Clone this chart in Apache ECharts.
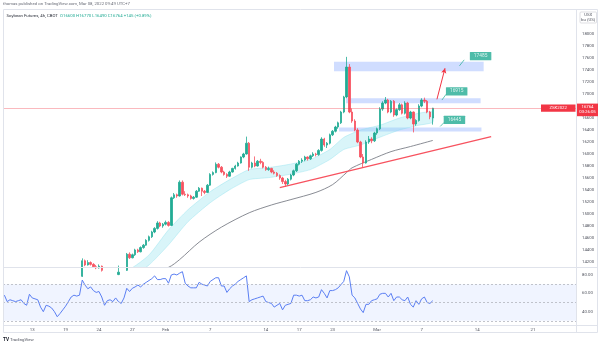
<!DOCTYPE html>
<html>
<head>
<meta charset="utf-8">
<script src="https://cdn.jsdelivr.net/npm/echarts@6/dist/echarts.min.js"></script>
<style>
  html, body { margin: 0; padding: 0; background: #ffffff; }
  #chart { width: 602px; height: 346px; }
</style>
</head>
<body>
<div id="chart"></div>
<script>
// ---- data -------------------------------------------------------------
// CBOT trading sessions shown on the time scale (4h bars, 4 per session)
const tradingDays = [
  '2022-01-10','2022-01-11','2022-01-12','2022-01-13','2022-01-14','2022-01-18','2022-01-19',
  '2022-01-20','2022-01-21','2022-01-24','2022-01-25','2022-01-26','2022-01-27','2022-01-28',
  '2022-01-31','2022-02-01','2022-02-02','2022-02-03','2022-02-04','2022-02-07','2022-02-08',
  '2022-02-09','2022-02-10','2022-02-11','2022-02-14','2022-02-15','2022-02-16','2022-02-17',
  '2022-02-18','2022-02-22','2022-02-23','2022-02-24','2022-02-25','2022-02-28','2022-03-01',
  '2022-03-02','2022-03-03','2022-03-04','2022-03-07','2022-03-08','2022-03-09','2022-03-10',
  '2022-03-11','2022-03-14','2022-03-15','2022-03-16','2022-03-17','2022-03-18','2022-03-21',
  '2022-03-22','2022-03-23','2022-03-24'
];
const barsPerDay = 4;
const barsScrolledOff = 2;

// time-scale labels: [session, text]
const dateTicks = [
  ['2022-01-13','13'], ['2022-01-19','19'], ['2022-01-24','24'], ['2022-01-27','27'],
  ['2022-02-01','Feb'], ['2022-02-07','7'], ['2022-02-14','14'], ['2022-02-17','17'],
  ['2022-02-23','23'], ['2022-03-01','Mar'], ['2022-03-07','7'], ['2022-03-14','14'],
  ['2022-03-21','21']
];
const priceTicks = [14200,14400,14600,14800,15000,15200,15400,15600,15800,16000,16200,16400,16600,16800,17000,17200,17400,17600,17800,18000];
const rsiTicks = [40, 60, 80];
const rsiLevels = [30, 50, 70];

// Soybean futures 4h candles: [open, high, low, close]
const ohlc = [
  [13960,13990,13930,13950],[13950,13970,13900,13920],[13920,13940,13860,13880],[13880,13920,13870,13900],
  [13900,13930,13870,13890],[13890,13930,13880,13910],[13910,13940,13880,13900],[13900,13950,13890,13930],
  [13930,13940,13860,13880],[13880,14010,13870,13990],[13990,14020,13940,13960],[13960,13980,13920,13940],
  [13940,13970,13920,13950],[13950,13960,13840,13860],[13860,13880,13780,13800],[13800,13860,13790,13840],
  [13840,13850,13790,13810],[13810,13830,13760,13780],[13780,13790,13700,13720],[13720,13740,13640,13660],
  [13660,13720,13650,13700],[13700,13760,13690,13740],[13740,13800,13730,13790],[13790,13890,13780,13880],
  [13880,13940,13860,13920],[13920,13970,13900,13950],[13950,13980,13920,13940],[13940,13990,13920,13960],
  [13960,14260,13950,14220],[14220,14240,14130,14150],[14150,14230,14140,14190],[14190,14210,14140,14160],
  [14160,14180,14100,14120],[14120,14150,14080,14100],[14100,14160,14090,14130],[14130,14140,14040,14060],
  [14060,14070,13940,13960],[13960,14030,13950,14010],[14010,14030,13970,13990],[13990,14040,13980,14020],
  [14020,14040,13970,13990],[13990,14140,13980,14030],[14030,14050,13960,13980],[13980,14080,13970,14060],
  [14060,14350,14050,14330],[14330,14360,14250,14270],[14270,14340,14260,14320],[14320,14420,14300,14400],
  [14400,14420,14350,14370],[14370,14460,14360,14440],[14440,14500,14420,14480],[14480,14580,14470,14560],
  [14560,14640,14540,14620],[14620,14720,14600,14700],[14700,14780,14680,14760],[14760,14880,14740,14850],
  [14850,14870,14780,14800],[14800,14850,14770,14830],[14830,14890,14810,14860],[14860,14880,14790,14810],
  [14810,15290,14800,15270],[15270,15350,15250,15320],[15320,15340,15270,15300],[15300,15560,15290,15530],
  [15530,15560,15310,15330],[15330,15380,15300,15320],[15320,15340,15270,15300],[15300,15320,15240,15260],
  [15260,15300,15240,15280],[15280,15400,15270,15380],[15380,15450,15370,15430],[15430,15440,15300,15380],
  [15380,15400,15330,15360],[15360,15500,15350,15480],[15480,15680,15470,15660],[15660,15710,15640,15690],
  [15690,15860,15680,15830],[15830,15850,15760,15780],[15780,15800,15680,15700],[15700,15720,15640,15660],
  [15660,15680,15600,15630],[15630,15720,15620,15700],[15700,15770,15690,15760],[15760,15820,15740,15800],
  [15800,15870,15790,15850],[15850,15960,15840,15950],[15950,16020,15930,16000],[16000,16290,15990,16180],
  [16180,16200,15720,15780],[15780,15870,15760,15850],[15850,15960,15780,15800],[15800,15900,15790,15880],
  [15880,15920,15830,15860],[15860,15880,15760,15780],[15780,15800,15720,15740],[15740,15790,15720,15760],
  [15760,15770,15680,15700],[15700,15730,15660,15680],[15680,15700,15620,15640],[15640,15660,15570,15600],
  [15600,15620,15500,15540],[15540,15570,15450,15500],[15500,15600,15480,15580],[15580,15670,15560,15650],
  [15650,15740,15630,15720],[15720,15850,15700,15830],[15830,15900,15810,15880],[15880,15930,15850,15900],
  [15900,15970,15880,15950],[15950,15960,15890,15920],[15920,15990,15900,15970],[15970,16030,15950,16000],
  [16000,16020,15960,15990],[15990,16080,15970,16060],[16060,16280,16040,16250],[16250,16270,16120,16150],
  [16150,16200,16100,16180],[16180,16340,16160,16320],[16320,16400,16300,16380],[16380,16470,16360,16450],
  [16450,16540,16420,16520],[16520,16720,16500,16700],[16700,16970,16680,16950],[16950,17620,16930,17450],
  [17450,17500,16680,16700],[16700,16760,16520,16550],[16550,16580,16380,16400],[16400,16430,16180,16200],
  [16200,16220,15930,15950],[15950,16000,15780,15850],[15850,16230,15840,16200],[16200,16300,16170,16250],
  [16250,16280,16180,16220],[16220,16370,16200,16350],[16350,16440,16320,16420],[16420,16780,16400,16750],
  [16750,16880,16720,16850],[16850,16950,16830,16900],[16900,16920,16680,16700],[16700,16900,16680,16880],
  [16880,16900,16620,16650],[16650,16760,16630,16740],[16740,16850,16720,16820],[16820,16840,16660,16680],
  [16680,16880,16660,16850],[16850,16870,16580,16600],[16600,16720,16580,16700],[16700,16710,16360,16500],
  [16500,16580,16470,16560],[16560,16830,16540,16800],[16800,16930,16780,16900],[16900,16940,16850,16880],
  [16880,16900,16680,16700],[16700,16720,16580,16619],[16600,16770,16490,16764]
];

// RSI(14) per bar
const rsi = [
  58,51,53,52,51,52,53,49,47,59,55,54,53,45,40,47,46,44,40,34.5,
  38,42,46,51,56,58,57,58,74.5,69,65,67,63,61,62,56,47,52,53,51,
  55,51,49,55,65.5,62,65.5,67,69,67,70,72,74,76,79,75,75,76,76,71,
  80,81,80,82,83.6,71,68,66,66,66,72,70,69,68,73,75,77,77,68,68,
  61,65,68,70,73,75,77,79,51,53,54,55,56,57,51,50,49,45,47,49,
  42,47,48,49,58,58,57,58,52,52,53,56,55,56,64,60,55,63,63,64,
  66,69.5,73,84.7,78,58,55,49,43,39,48,48,52,53,54,59,60,60,56,60,
  52,56,56,53,52,56,48,45,52,48,54,56,50,49,52
];

// moving-average ribbon edges and slow average: [bar, price]
const ribbonUpper = [[34,13950],[45,14080],[52,14317],[59,14736],[66,15071],[74,15372],[81,15573],[88,15740],[95,15774],[102,15824],[110,15908],[117,16075],[122,16276],[128,16400],[135,16480],[142,16600],[149,16680],[154,16700]];
const ribbonLower = [[34,13800],[45,13930],[52,14150],[59,14485],[66,14870],[74,15188],[81,15405],[88,15573],[95,15606],[102,15656],[110,15740],[117,15908],[122,16075],[128,16150],[135,16280],[142,16400],[149,16480],[154,16530]];
const slowMA = [[20,13300],[41,13800],[59,14110],[63,14240],[70,14530],[78,14780],[88,15020],[96,15150],[103,15240],[112,15360],[118,15490],[123,15690],[125,15770],[132,15910],[139,16040],[146,16125],[154,16226]];

// drawings
const trendLine = [[99,15440],[175,16290]];
const zones = [
  { from: [118.5,17380], to: [172.3,17540], tag: '17485', tagAt: [171.2,17632], leader: [[165.3,17570],[163.6,17470]] },
  { from: [122.8,16845], to: [171.2,16930], tag: '16915', tagAt: [162.6,17046], leader: [[158.8,16996],[157.3,16900]] },
  { from: [120.3,16376], to: [171.5,16443], tag: '16445', tagAt: [161.8,16569], leader: [[158.1,16527],[156.7,16460]] }
];
const breakoutArrow = [[155.5,16912],[158.4,17430]];

const symbolCode = 'ZSK2022';
const countdown = '03:26:05';
const headerTitle = 'Soybean Futures, 4h, CBOT';
const headerChange = '+145 (+0.89%)';
const publishedLine = 'thomas published on TradingView.com, Mar 08, 2022 09:49 UTC+7';

// ---- build ------------------------------------------------------------
const FONT = 'Roboto, "Noto Sans", sans-serif';
const FS = 4.3;
const UP = '#22ab94', DOWN = '#f7525f';

const categories = [];
tradingDays.forEach((day, d) => {
  for (let b = 0; b < barsPerDay; b++) {
    if (d * barsPerDay + b >= barsScrolledOff) categories.push(day + ' #' + b);
  }
});
const N = categories.length;
const tickText = new Map(dateTicks.map(([d, t]) => [d + ' #0', t]));
const candleData = ohlc.map(([o, h, l, c]) => [o, c, l, h]);
const last = ohlc[ohlc.length - 1];

const PRICE_MIN = 14116, PRICE_MAX = 18418;
const RSI_MIN = 25.5, RSI_MAX = 88.7;

const chart = echarts.init(document.getElementById('chart'), null, { renderer: 'canvas' });

const hiddenAxis = { show: false, splitLine: { show: false } };

// filled band between the two ribbon edges, clipped to the price pane
function renderRibbon(params, api) {
  const cs = params.coordSys;
  const pts = ribbonUpper.map(p => api.coord(p))
    .concat(ribbonLower.slice().reverse().map(p => api.coord(p)));
  return {
    type: 'group',
    clipPath: { type: 'rect', shape: { x: cs.x, y: cs.y, width: cs.width, height: cs.height } },
    children: [{ type: 'polygon', shape: { points: pts, smooth: 0.2 },
      style: { fill: 'rgba(128,222,234,0.3)', stroke: 'rgba(128,222,234,0.45)', lineWidth: 0.8 } }]
  };
}

const option = {
  animation: false,
  backgroundColor: '#ffffff',
  textStyle: { fontFamily: FONT },
  grid: [
    { left: 3, top: 9, width: 573, height: 258, outerBoundsMode: 'none' },
    { left: 3, top: 267, width: 573, height: 58, outerBoundsMode: 'none' }
  ],
  xAxis: [
    { type: 'category', gridIndex: 0, data: categories, boundaryGap: true,
      axisLine: { show: false }, axisTick: { show: false }, axisLabel: { show: false }, splitLine: { show: false } },
    Object.assign({ type: 'value', gridIndex: 0, min: -0.5, max: N - 0.5 }, hiddenAxis),
    { type: 'category', gridIndex: 1, data: categories, boundaryGap: true,
      axisLine: { show: false }, axisTick: { show: false }, splitLine: { show: false },
      axisLabel: {
        interval: (idx, val) => tickText.has(val),
        formatter: val => tickText.get(val) || '',
        fontSize: FS, color: '#50535e', margin: 3, fontFamily: FONT
      } }
  ],
  yAxis: [
    { type: 'value', gridIndex: 0, position: 'right', min: PRICE_MIN, max: PRICE_MAX,
      axisLine: { show: false }, axisTick: { show: false }, splitLine: { show: false },
      axisLabel: { customValues: priceTicks, formatter: v => String(v), fontSize: FS, color: '#50535e', margin: 6, fontFamily: FONT } },
    { type: 'value', gridIndex: 1, position: 'right', min: RSI_MIN, max: RSI_MAX,
      axisLine: { show: false }, axisTick: { show: false }, splitLine: { show: false },
      axisLabel: { customValues: rsiTicks, formatter: v => v.toFixed(2), fontSize: FS, color: '#50535e', margin: 6, fontFamily: FONT } }
  ],
  series: [
    // moving-average ribbon
    { type: 'custom', xAxisIndex: 1, yAxisIndex: 0, data: [[0, PRICE_MIN]], renderItem: renderRibbon, silent: true, z: 1 },
    // slow moving average
    { type: 'line', xAxisIndex: 1, yAxisIndex: 0, data: slowMA, smooth: 0.3, showSymbol: false,
      lineStyle: { color: '#7c7f88', width: 0.9 }, silent: true, clip: true, z: 2 },
    // support trend line
    { type: 'line', xAxisIndex: 1, yAxisIndex: 0, data: trendLine, showSymbol: false,
      lineStyle: { color: '#f7525f', width: 1.2 }, silent: true, clip: true, z: 3 },
    // price zones, breakout arrow
    { type: 'line', xAxisIndex: 1, yAxisIndex: 0, data: [], silent: true,
      markArea: { silent: true, itemStyle: { color: 'rgba(41,98,255,0.22)' },
        data: zones.map(z => [{ coord: z.from }, { coord: z.to }]) },
      markLine: { silent: true, symbol: ['none', 'arrow'], symbolSize: [4, 5],
        lineStyle: { color: '#f23645', width: 1, type: 'solid' }, label: { show: false },
        data: [[{ coord: breakoutArrow[0] }, { coord: breakoutArrow[1] }]] } },
    // zone tag leaders
    ...zones.map(z => ({ type: 'line', xAxisIndex: 1, yAxisIndex: 0, data: z.leader, showSymbol: false,
      lineStyle: { color: '#22ab94', width: 0.7 }, silent: true, z: 5 })),
    // zone tags
    { type: 'scatter', xAxisIndex: 1, yAxisIndex: 0, symbolSize: 0, silent: true, z: 6,
      data: zones.map(z => ({ value: z.tagAt, name: z.tag })),
      label: { show: true, position: 'inside', formatter: p => p.name, color: '#ffffff', fontSize: 4.8,
        fontFamily: FONT, backgroundColor: '#22ab94', padding: [1.8, 4, 1.4, 4], borderRadius: 0.5 } },
    // candles
    { type: 'candlestick', xAxisIndex: 0, yAxisIndex: 0, data: candleData, barWidth: '70%', clip: true, z: 4,
      itemStyle: { color: UP, color0: DOWN, borderColor: UP, borderColor0: DOWN, borderWidth: 0.8 } },
    // RSI
    { type: 'line', xAxisIndex: 2, yAxisIndex: 1, data: rsi, showSymbol: false, silent: true,
      lineStyle: { color: '#5b7ff3', width: 1 }, z: 3,
      markArea: { silent: true, itemStyle: { color: 'rgba(41,98,255,0.07)' }, data: [[{ yAxis: rsiLevels[0] }, { yAxis: rsiLevels[2] }]] },
      markLine: { silent: true, symbol: 'none', label: { show: false },
        lineStyle: { color: '#b2b5be', width: 0.8, type: [2, 2] },
        data: rsiLevels.map(v => ({ yAxis: v })) } }
  ]
};
chart.setOption(option);

// ---- overlay: frame, header, price tags ------------------------------
const lastY = chart.convertToPixel({ yAxisIndex: 0 }, last[3]);
const frame = '#e0e3eb';
const graphic = [
  { type: 'rect', shape: { x: 3.5, y: 9.5, width: 594, height: 323 }, style: { fill: null, stroke: frame, lineWidth: 1 }, z: 50 },
  { type: 'line', shape: { x1: 576.5, y1: 9.5, x2: 576.5, y2: 332.5 }, style: { stroke: frame, lineWidth: 1 }, z: 50 },
  { type: 'line', shape: { x1: 3.5, y1: 267.5, x2: 597.5, y2: 267.5 }, style: { stroke: frame, lineWidth: 1 }, z: 50 },
  { type: 'line', shape: { x1: 3.5, y1: 325.5, x2: 597.5, y2: 325.5 }, style: { stroke: frame, lineWidth: 1 }, z: 50 },
  // last price line
  { type: 'line', shape: { x1: 3.5, y1: Math.round(lastY) + 0.5, x2: 576, y2: Math.round(lastY) + 0.5 },
    style: { stroke: 'rgba(242,54,69,0.35)', lineWidth: 1 }, z: 40 },
  // contract tag
  { type: 'rect', shape: { x: 541, y: lastY - 3.8, width: 34.5, height: 7.4 }, style: { fill: '#f23645' }, z: 60 },
  { type: 'text', x: 558.2, y: lastY, style: { text: symbolCode, fill: '#ffffff', fontSize: FS, fontFamily: FONT, align: 'center', verticalAlign: 'middle' }, z: 61 },
  // last price + countdown tag
  { type: 'rect', shape: { x: 577, y: lastY - 4.6, width: 21, height: 12.6 }, style: { fill: '#f23645' }, z: 60 },
  { type: 'text', x: 587.5, y: lastY - 1.2, style: { text: String(last[3]), fill: '#ffffff', fontSize: FS, fontFamily: FONT, align: 'center', verticalAlign: 'middle' }, z: 61 },
  { type: 'text', x: 587.5, y: lastY + 4.2, style: { text: countdown, fill: '#ffffff', fontSize: FS, fontFamily: FONT, align: 'center', verticalAlign: 'middle' }, z: 61 },
  // currency / unit box
  { type: 'rect', shape: { x: 580, y: 12, width: 16.5, height: 11, r: 1 }, style: { fill: '#ffffff', stroke: '#c9cbd1', lineWidth: 0.6 }, z: 60 },
  { type: 'text', x: 588.2, y: 15, style: { text: 'USX', fill: '#50535e', fontSize: FS, fontFamily: FONT, align: 'center', verticalAlign: 'middle' }, z: 61 },
  { type: 'text', x: 588.2, y: 20.3, style: { text: 'bu (US)', fill: '#50535e', fontSize: FS, fontFamily: FONT, align: 'center', verticalAlign: 'middle' }, z: 61 },
  // header
  { type: 'text', x: 3, y: 4.2, style: { text: publishedLine, fill: '#6a6d78', fontSize: FS, fontFamily: FONT, verticalAlign: 'middle' }, z: 61 },
  { type: 'text', x: 6.5, y: 16, z: 61, style: {
      text: '{t|' + headerTitle + '}  {v|O' + last[0] + ' H' + last[1] + ' L' + last[2] + ' C' + last[3] + ' ' + headerChange + '}',
      verticalAlign: 'middle', fontFamily: FONT, fontSize: FS,
      rich: { t: { fill: '#2a2e39', fontSize: FS, fontFamily: FONT }, v: { fill: '#22ab94', fontSize: FS, fontFamily: FONT } } } },
  // footer
  { type: 'text', x: 3, y: 340, style: { text: '{b|TV} {n|TradingView}', verticalAlign: 'middle', fontFamily: FONT, fontSize: FS,
      rich: { b: { fill: '#131722', fontWeight: 'bold', fontSize: FS + 0.4, fontFamily: FONT }, n: { fill: '#50535e', fontSize: FS, fontFamily: FONT } } }, z: 61 }
];
chart.setOption({ graphic });
</script>
</body>
</html>
